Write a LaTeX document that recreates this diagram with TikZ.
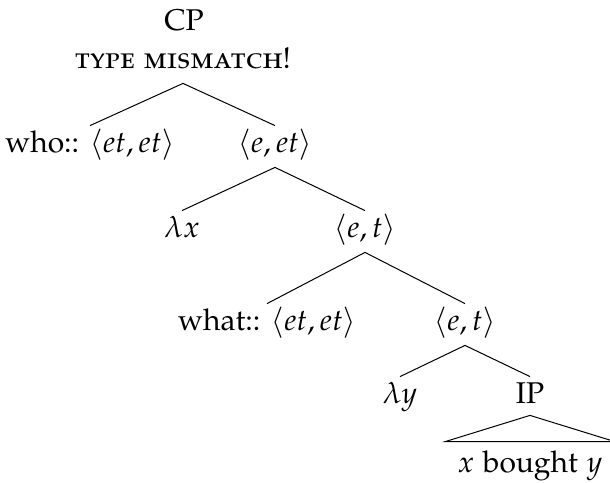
\documentclass[tikz,border=0pt]{standalone}
\usepackage[T1]{fontenc}
\usepackage[sc]{mathpazo}

\tikzset{
    tn/.style={anchor=base, text height=10.5pt, text depth=5pt, inner xsep=2pt, inner ysep=2.5pt},
    branch/.style={line width=0.5pt, black}
}

\begin{document}
\begin{tikzpicture}[x=0.5pt, y=-0.5pt, font=\fontsize{15}{18}\selectfont]
    \useasboundingbox (0,0) rectangle (610,482);

    % root
    \node[tn] (cp) at (184,31) {CP};
    \node[tn] (mis) at (183,68) {\textsc{type mismatch!}};

    % first level
    \node[tn] (who) at (90,152) {who:: $\langle et,et\rangle$};
    \node[tn] (eet) at (275,152) {$\langle e,et\rangle$};

    % second level
    \node[tn] (lx) at (182,237) {$\lambda x$};
    \node[tn] (et1) at (365,237) {$\langle e,t\rangle$};

    % third level
    \node[tn] (what) at (267,330) {what:: $\langle et,et\rangle$};
    \node[tn] (et2) at (465,330) {$\langle e,t\rangle$};

    % fourth level
    \node[tn] (ly) at (400,403) {$\lambda y$};
    \node[tn] (ip) at (530,403) {IP};
    \node[tn, text height=12.5pt, inner xsep=6pt] (xby) at (530,472) {$x$ bought $y$};

    % branches
    \draw[branch] (mis.south) -- (who.north);
    \draw[branch] (mis.south) -- (eet.north);
    \draw[branch] (eet.south) -- (lx.north);
    \draw[branch] (eet.south) -- (et1.north);
    \draw[branch] (et1.south) -- (what.north);
    \draw[branch] (et1.south) -- (et2.north);
    \draw[branch] (et2.south) -- (ly.north);
    \draw[branch] (et2.south) -- (ip.north);
    \draw[branch] ([yshift=1.5pt]ip.south) -- (xby.north west) -- (xby.north east) -- cycle;
\end{tikzpicture}
\end{document}
